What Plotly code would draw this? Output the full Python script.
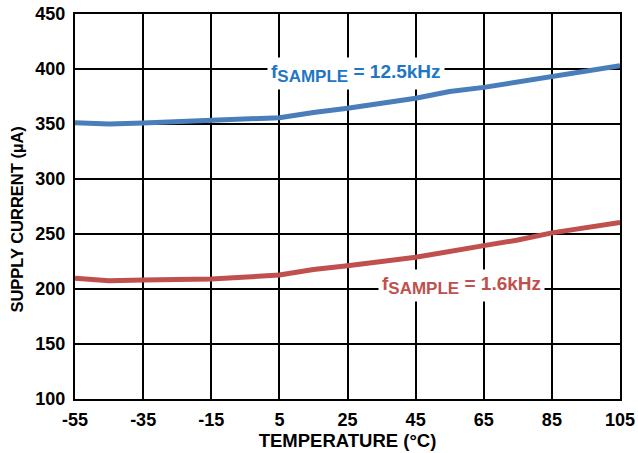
import plotly.graph_objects as go

temp_blue = [-55, -45, -35, -15, 5, 15, 25, 45, 55, 65, 85, 95, 105]
curr_blue = [351.2, 350.0, 351.0, 353.0, 355.7, 360.5, 364.3, 373.4, 379.5, 383.3, 393.6, 397.6, 403.0]
temp_red = [-55, -45, -35, -15, 5, 15, 25, 45, 65, 75, 85, 105]
curr_red = [209.7, 207.6, 208.2, 209.0, 212.7, 217.8, 221.2, 228.8, 239.4, 244.5, 251.0, 260.5]

x_ticks = [-55, -35, -15, 5, 25, 45, 65, 85, 105]
y_ticks = [100, 150, 200, 250, 300, 350, 400, 450]

sub = "<sub><span style='font-size:17px'>SAMPLE</span></sub>"
label_blue = "f" + sub + " = 12.5kHz"
label_red = "f" + sub + " = 1.6kHz"
y_title = "SUPPLY CURRENT (µA)"
x_title = "TEMPERATURE (°C)"

blue = "#4a7ebb"
red = "#c0504d"
font = "Liberation Sans, Arial, sans-serif"

fig = go.Figure()
fig.add_trace(go.Scatter(x=temp_blue, y=curr_blue, mode="lines",
                         line=dict(color=blue, width=5), showlegend=False))
fig.add_trace(go.Scatter(x=temp_red, y=curr_red, mode="lines",
                         line=dict(color=red, width=5), showlegend=False))

fig.add_annotation(x=27.5, y=396, text="<b>" + label_blue + "</b>", showarrow=False,
                   font=dict(family=font, size=19, color="#1f76c4"),
                   bgcolor="white", borderpad=3)
fig.add_annotation(x=58.5, y=203.5, text="<b>" + label_red + "</b>", showarrow=False,
                   font=dict(family=font, size=19, color=red),
                   bgcolor="white", borderpad=3)
fig.add_annotation(xref="paper", yref="paper", x=-0.1064, y=0.466, text="<b>" + y_title + "</b>",
                   textangle=-90, showarrow=False, xanchor="center", yanchor="middle",
                   font=dict(family=font, size=16.5, color="black"))

fig.update_xaxes(range=[-55, 105], tickvals=x_ticks, ticktext=["<b>%d</b>" % v for v in x_ticks],
                 showgrid=True, gridcolor="black", gridwidth=2,
                 showline=True, linecolor="black", linewidth=2, mirror=True,
                 zeroline=False, ticks="", automargin=False, ticklabelstandoff=3,
                 tickfont=dict(family=font, size=18, color="black"),
                 title=dict(text="<b>" + x_title + "</b>", font=dict(family=font, size=18.5, color="black"),
                            standoff=4))
fig.update_yaxes(range=[100, 450], tickvals=y_ticks, ticktext=["<b>%d</b>" % v for v in y_ticks],
                 showgrid=True, gridcolor="black", gridwidth=2,
                 showline=True, linecolor="black", linewidth=2, mirror=True,
                 zeroline=False, ticks="", automargin=False, ticklabelstandoff=4,
                 tickfont=dict(family=font, size=18, color="black"))

fig.update_layout(width=638, height=453, margin=dict(l=75, r=18, t=14, b=54),
                  plot_bgcolor="white", paper_bgcolor="white")
fig.write_html("out.html", config={"displayModeBar": False},
               post_script="document.body.style.margin='0';document.body.style.overflow='hidden';")
